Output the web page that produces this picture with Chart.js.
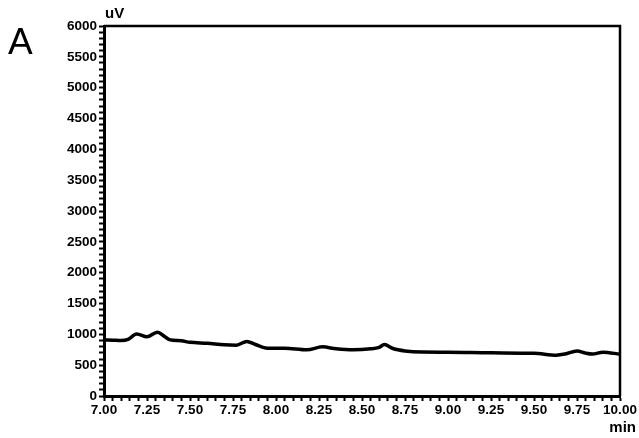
<!DOCTYPE html>
<html>
<head>
<meta charset="utf-8">
<script src="https://cdn.jsdelivr.net/npm/chart.js@4"></script>
<style>
    html, body { margin: 0; padding: 0; background: #fff; }
    #wrap { width: 639px; height: 438px; position: relative; }
</style>
</head>
<body>
<div id="wrap"><canvas id="chromChart" width="639" height="438"></canvas></div>
<script>
// retention time (min) and detector signal (uV)
const times = [7.00, 7.05, 7.10, 7.14, 7.19, 7.25, 7.31, 7.34, 7.38, 7.45, 7.50, 7.60, 7.70, 7.77,
    7.83, 7.88, 7.95, 8.05, 8.18, 8.27, 8.35, 8.45, 8.55, 8.60, 8.63, 8.68, 8.75, 8.85,
    9.00, 9.25, 9.50, 9.63, 9.68, 9.75, 9.80, 9.84, 9.90, 10.00];
const signal = [910, 905, 900, 920, 1005, 960, 1035, 990, 915, 895, 870, 855, 830, 825,
    885, 835, 775, 775, 748, 797, 765, 748, 765, 790, 835, 770, 730, 712,
    710, 700, 693, 662, 680, 730, 695, 680, 710, 678];

const xMin = 7, xMax = 10, xMajor = 0.25, xMinor = 0.05;
const yMin = 0, yMax = 6000, yMajor = 500, yMinor = 100;

const labelFont = { family: "'Liberation Sans', Arial, sans-serif", size: 13.5, weight: "bold" };

function isMajor(v, step) {
    const r = v / step;
    return Math.abs(r - Math.round(r)) < 1e-6;
}

// frame + extra labels
const framePlugin = {
    id: "frame",
    afterDraw(chart) {
        const { ctx, chartArea: a } = chart;
        ctx.save();
        ctx.strokeStyle = "#000";
        ctx.lineWidth = 2.5;
        ctx.beginPath();
        ctx.moveTo(a.left, a.top);
        ctx.lineTo(a.right, a.top);
        ctx.lineTo(a.right, a.bottom);
        ctx.stroke();

        ctx.fillStyle = "#000";
        ctx.font = "bold 15px 'Liberation Sans', Arial, sans-serif";
        ctx.textBaseline = "alphabetic";
        ctx.textAlign = "left";
        ctx.fillText("uV", 105, 18);
        ctx.textAlign = "right";
        ctx.fillText("min", 636, 432);

        ctx.font = "37px 'Liberation Sans', Arial, sans-serif";
        ctx.textAlign = "left";
        ctx.fillText("A", 8, 54);
        ctx.restore();
    }
};

const ctx = document.getElementById("chromChart").getContext("2d");

new Chart(ctx, {
    type: "line",
    data: {
        datasets: [{
            data: times.map((t, i) => ({ x: t, y: signal[i] })),
            borderColor: "#000",
            borderWidth: 3.5,
            pointRadius: 0,
            fill: false,
            tension: 0.4,
            cubicInterpolationMode: "monotone"
        }]
    },
    options: {
        responsive: false,
        animation: false,
        layout: { padding: { top: 26, right: 19, left: 0, bottom: 0 } },
        plugins: {
            legend: { display: false },
            tooltip: { enabled: false }
        },
        scales: {
            x: {
                type: "linear",
                min: xMin,
                max: xMax,
                afterFit: s => { s.height = 42; },
                border: { color: "#000", width: 3 },
                grid: {
                    drawOnChartArea: false,
                    color: "#000",
                    tickColor: "#000",
                    tickLength: 5,
                    tickWidth: 2
                },
                ticks: {
                    stepSize: xMinor,
                    autoSkip: false,
                    maxRotation: 0,
                    maxTicksLimit: 200,
                    padding: 1,
                    color: "#000",
                    font: labelFont,
                    callback: v => isMajor(v - xMin, xMajor) ? v.toFixed(2) : ""
                }
            },
            y: {
                min: yMin,
                max: yMax,
                afterFit: s => { s.width = 104; },
                border: { color: "#000", width: 3 },
                grid: {
                    drawOnChartArea: false,
                    color: "#000",
                    tickColor: "#000",
                    tickLength: 5,
                    tickWidth: 2
                },
                ticks: {
                    stepSize: yMinor,
                    autoSkip: false,
                    maxTicksLimit: 200,
                    padding: 2,
                    color: "#000",
                    font: labelFont,
                    callback: v => isMajor(v, yMajor) ? String(v) : ""
                }
            }
        }
    },
    plugins: [framePlugin]
});
</script>
</body>
</html>
